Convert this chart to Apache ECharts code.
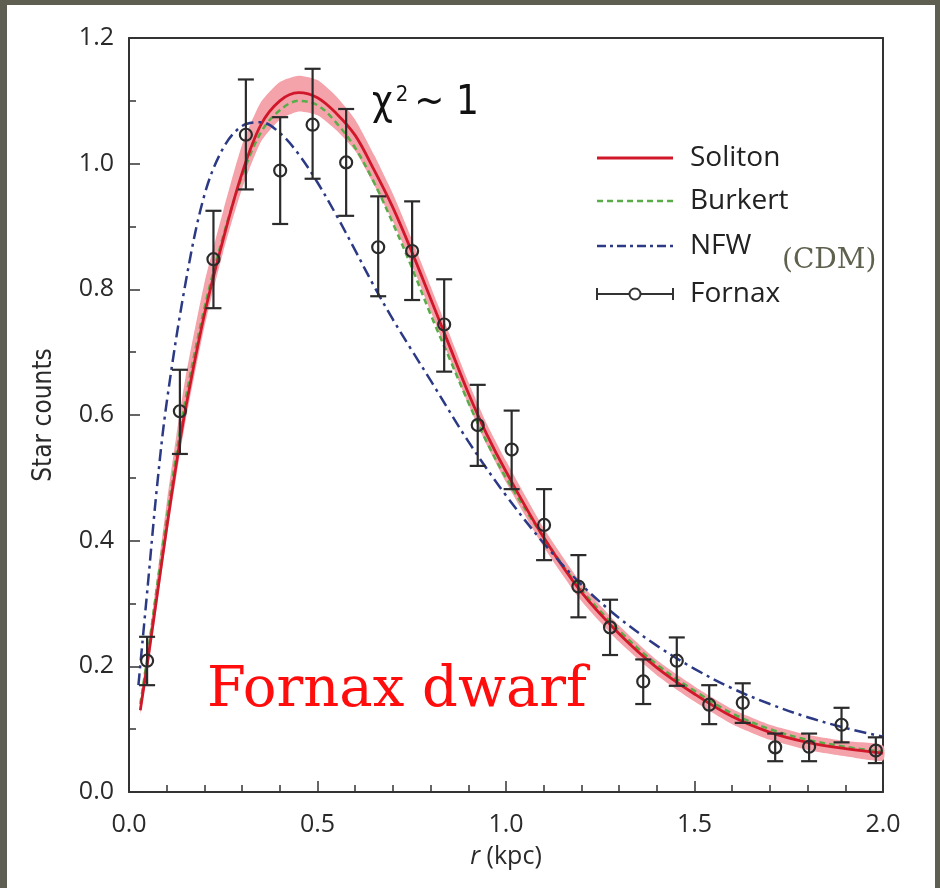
<!DOCTYPE html>
<html>
<head>
<meta charset="utf-8">
<script src="https://cdn.jsdelivr.net/npm/echarts@6/dist/echarts.min.js"></script>
<style>
html,body{margin:0;padding:0;background:#fff;}
#chart{width:940px;height:888px;}
</style>
</head>
<body>
<div id="chart"></div>
<script>
// ---- data ----
const fornaxR      = [0.048,0.135,0.224,0.310,0.401,0.487,0.576,0.661,0.751,0.836,0.925,1.015,1.101,1.192,1.276,1.364,1.453,1.539,1.628,1.714,1.804,1.890,1.981];
const fornaxCounts = [0.209,0.606,0.848,1.046,0.989,1.062,1.002,0.867,0.861,0.744,0.584,0.545,0.425,0.327,0.262,0.176,0.209,0.139,0.142,0.071,0.072,0.107,0.066];
const fornaxLow    = [0.170,0.538,0.770,0.959,0.904,0.976,0.917,0.789,0.783,0.669,0.519,0.482,0.369,0.278,0.218,0.140,0.169,0.108,0.110,0.049,0.049,0.079,0.046];
const fornaxHigh   = [0.247,0.672,0.925,1.134,1.074,1.151,1.087,0.948,0.940,0.816,0.648,0.607,0.482,0.377,0.306,0.211,0.246,0.170,0.173,0.093,0.093,0.134,0.087];

const curveR    = [0.03,0.05,0.075,0.1,0.125,0.15,0.2,0.25,0.3,0.35,0.4,0.45,0.5,0.55,0.6,0.65,0.7,0.75,0.8,0.85,0.9,0.95,1.0,1.1,1.2,1.3,1.4,1.5,1.6,1.7,1.8,1.9,2.0];
const soliton   = [0.13,0.21,0.315,0.42,0.52,0.61,0.76,0.88,0.985,1.062,1.10,1.113,1.105,1.08,1.045,0.99,0.93,0.86,0.785,0.71,0.635,0.568,0.51,0.405,0.318,0.252,0.198,0.156,0.12,0.095,0.079,0.069,0.062];
const solitonUp = [0.145,0.23,0.345,0.46,0.565,0.66,0.81,0.925,1.03,1.098,1.13,1.14,1.133,1.107,1.07,1.014,0.952,0.88,0.805,0.729,0.653,0.585,0.527,0.42,0.332,0.265,0.21,0.168,0.132,0.107,0.091,0.081,0.074];
const solitonLo = [0.125,0.195,0.30,0.405,0.50,0.59,0.74,0.86,0.96,1.035,1.07,1.083,1.077,1.053,1.02,0.966,0.908,0.84,0.765,0.691,0.617,0.551,0.493,0.39,0.304,0.239,0.186,0.144,0.108,0.083,0.067,0.057,0.05];
const burkert   = [0.14,0.22,0.33,0.435,0.535,0.625,0.77,0.885,0.98,1.05,1.085,1.10,1.093,1.065,1.025,0.97,0.905,0.835,0.76,0.69,0.62,0.556,0.50,0.405,0.322,0.257,0.203,0.161,0.125,0.10,0.083,0.072,0.064];
const nfwR      = [0.025,0.05,0.075,0.1,0.15,0.2,0.25,0.3,0.35,0.4,0.45,0.5,0.55,0.6,0.65,0.7,0.75,0.8,0.9,1.0,1.1,1.2,1.3,1.4,1.5,1.6,1.7,1.8,1.9,2.0];
const nfw       = [0.17,0.33,0.49,0.62,0.81,0.95,1.025,1.06,1.066,1.049,1.015,0.97,0.918,0.862,0.805,0.752,0.703,0.655,0.558,0.472,0.396,0.330,0.277,0.233,0.196,0.165,0.140,0.119,0.102,0.088];

const xTicks = [0.0,0.5,1.0,1.5,2.0];
const yTicks = [0.0,0.2,0.4,0.6,0.8,1.0,1.2];
const legendNames = ['Soliton','Burkert','NFW','Fornax'];

// ---- style ----
const RED = '#d0182a', GREEN = '#58ad49', NAVY = '#2c3a86', BAND = '#f5a3ab', INK = '#333';
const FONT = "'Open Sans','Noto Sans',sans-serif";
const NARROW = "'DejaVu Sans Condensed','Liberation Sans Narrow',sans-serif";

const zip = (xs, ys) => xs.map((x, i) => [x, ys[i]]);

const chart = echarts.init(document.getElementById('chart'), null, {renderer: 'canvas'});

const legendX = 597, legendTextX = 690, legendYs = [158, 201, 246, 294];

const tickStyle = {color: INK, width: 1.5};
const xMin = xTicks[0], xMax = xTicks[xTicks.length - 1];
const yMin = yTicks[0], yMax = yTicks[yTicks.length - 1];

const option = {
  animation: false,
  backgroundColor: '#fff',
  grid: {left: 129, right: 57, top: 38, bottom: 96, show: false},
  xAxis: [{
    type: 'value', min: xMin, max: xMax, interval: 0.5, position: 'bottom',
    axisLine: {show: true, onZero: false, lineStyle: {color: INK, width: 2}},
    axisTick: {show: true, inside: true, length: 11, lineStyle: tickStyle},
    minorTick: {show: true, splitNumber: 5, length: 7, lineStyle: tickStyle},
    splitLine: {show: false}, minorSplitLine: {show: false},
    axisLabel: {show: true, color: '#2a2a2a', fontSize: 25, fontFamily: FONT, margin: 20, formatter: v => v.toFixed(1)},
    name: '{i|r} (kpc)', nameLocation: 'middle', nameGap: 52,
    nameTextStyle: {color: '#2a2a2a', fontSize: 25, fontFamily: FONT, verticalAlign: 'top',
      rich: {i: {fontStyle: 'italic', fontSize: 25, fontFamily: FONT, color: '#2a2a2a'}}}
  }, {
    type: 'value', min: xMin, max: xMax, position: 'top',
    axisLine: {show: true, onZero: false, lineStyle: {color: INK, width: 2}},
    axisTick: {show: false}, axisLabel: {show: false}, splitLine: {show: false}
  }],
  yAxis: [{
    type: 'value', min: yMin, max: yMax, interval: 0.2, position: 'left',
    axisLine: {show: true, onZero: false, lineStyle: {color: INK, width: 2}},
    axisTick: {show: true, inside: true, length: 11, lineStyle: tickStyle},
    minorTick: {show: true, splitNumber: 2, length: 7, lineStyle: tickStyle},
    splitLine: {show: false}, minorSplitLine: {show: false},
    axisLabel: {show: true, color: '#2a2a2a', fontSize: 25, fontFamily: FONT, margin: 15, formatter: v => v.toFixed(1)},
    name: 'Star counts', nameLocation: 'middle', nameGap: 72, nameRotate: 90,
    nameTextStyle: {color: '#2a2a2a', fontSize: 26, fontFamily: NARROW}
  }, {
    type: 'value', min: yMin, max: yMax, position: 'right',
    axisLine: {show: true, onZero: false, lineStyle: {color: INK, width: 2}},
    axisTick: {show: false}, axisLabel: {show: false}, splitLine: {show: false}
  }],
  series: [
    {
      type: 'custom', name: 'band', z: 1, silent: true,
      data: [[curveR[0], soliton[0]]],
      renderItem: function (params, api) {
        const pts = [];
        for (let i = 0; i < curveR.length; i++) pts.push(api.coord([curveR[i], solitonUp[i]]));
        for (let i = curveR.length - 1; i >= 0; i--) pts.push(api.coord([curveR[i], solitonLo[i]]));
        return {type: 'polygon', shape: {points: pts, smooth: 0.2}, style: {fill: BAND, stroke: null}};
      }
    },
    {type: 'line', name: 'Burkert', z: 2, data: zip(curveR, burkert), smooth: 0.35, showSymbol: false,
      lineStyle: {color: GREEN, width: 2.5, type: [6, 4]}},
    {type: 'line', name: 'Soliton', z: 3, data: zip(curveR, soliton), smooth: 0.35, showSymbol: false,
      lineStyle: {color: RED, width: 2.8}},
    {type: 'line', name: 'NFW', z: 4, data: zip(nfwR, nfw), smooth: 0.35, showSymbol: false,
      lineStyle: {color: NAVY, width: 2.5, type: [12, 5, 3, 5]}},
    {
      type: 'custom', name: 'Fornax', z: 5,
      data: fornaxR.map((x, i) => [x, fornaxCounts[i], fornaxLow[i], fornaxHigh[i]]),
      encode: {x: 0, y: [1, 2, 3]},
      renderItem: function (params, api) {
        const x = api.value(0);
        const p = api.coord([x, api.value(1)]);
        const lo = api.coord([x, api.value(2)]);
        const hi = api.coord([x, api.value(3)]);
        const st = {stroke: '#2b2b2b', lineWidth: 2.2, fill: null};
        return {type: 'group', children: [
          {type: 'line', shape: {x1: lo[0], y1: lo[1], x2: hi[0], y2: hi[1]}, style: st},
          {type: 'line', shape: {x1: lo[0] - 8, y1: lo[1], x2: lo[0] + 8, y2: lo[1]}, style: st},
          {type: 'line', shape: {x1: hi[0] - 8, y1: hi[1], x2: hi[0] + 8, y2: hi[1]}, style: st},
          {type: 'circle', shape: {cx: p[0], cy: p[1], r: 6}, style: st}
        ]};
      }
    }
  ],
  graphic: [
    // legend
    {type: 'line', shape: {x1: legendX, y1: legendYs[0], x2: 673, y2: legendYs[0]}, style: {stroke: RED, lineWidth: 3}},
    {type: 'line', shape: {x1: legendX, y1: legendYs[1], x2: 673, y2: legendYs[1]}, style: {stroke: GREEN, lineWidth: 2.5, lineDash: [6, 4]}},
    {type: 'line', shape: {x1: legendX, y1: legendYs[2], x2: 673, y2: legendYs[2]}, style: {stroke: NAVY, lineWidth: 2.5, lineDash: [9, 4, 3, 4]}},
    {type: 'line', shape: {x1: legendX, y1: legendYs[3], x2: 673, y2: legendYs[3]}, style: {stroke: INK, lineWidth: 2}},
    {type: 'line', shape: {x1: legendX, y1: legendYs[3] - 6, x2: legendX, y2: legendYs[3] + 6}, style: {stroke: INK, lineWidth: 2}},
    {type: 'line', shape: {x1: 673, y1: legendYs[3] - 6, x2: 673, y2: legendYs[3] + 6}, style: {stroke: INK, lineWidth: 2}},
    {type: 'circle', shape: {cx: 635, cy: legendYs[3], r: 5.5}, style: {stroke: INK, lineWidth: 2, fill: '#fff'}},
    ...legendNames.map((n, i) => ({type: 'text', style: {text: n, x: legendTextX, y: legendYs[i], fill: '#222', fontSize: 28, fontFamily: FONT, verticalAlign: 'middle'}})),
    {type: 'text', style: {text: '(CDM)', x: 782, y: 261, fill: '#5f614f', fontSize: 28, fontFamily: "'DejaVu Serif',serif", verticalAlign: 'middle'}},
    {type: 'text', style: {text: '{a|χ}{s|2}{a|~ 1}', x: 372, y: 104, verticalAlign: 'middle',
      rich: {a: {fontSize: 40, fontFamily: NARROW, fill: '#111', padding: [0, 3, 0, 0]},
             s: {fontSize: 22, fontFamily: NARROW, fill: '#111', verticalAlign: 'top', padding: [0, 6, 14, 0]}}}},
    {type: 'text', style: {text: 'Fornax dwarf', x: 207, y: 719, fill: '#ff0d0d', fontSize: 56, fontFamily: "'DejaVu Serif',serif", verticalAlign: 'bottom'}},
    // frame
    {type: 'rect', z: 100, shape: {x: 0, y: 0, width: 940, height: 5}, style: {fill: '#5e5f50'}},
    {type: 'rect', z: 100, shape: {x: 0, y: 0, width: 7, height: 888}, style: {fill: '#5e5f50'}},
    {type: 'rect', z: 100, shape: {x: 935, y: 0, width: 5, height: 888}, style: {fill: '#5e5f50'}}
  ]
};
chart.setOption(option);
</script>
</body>
</html>
